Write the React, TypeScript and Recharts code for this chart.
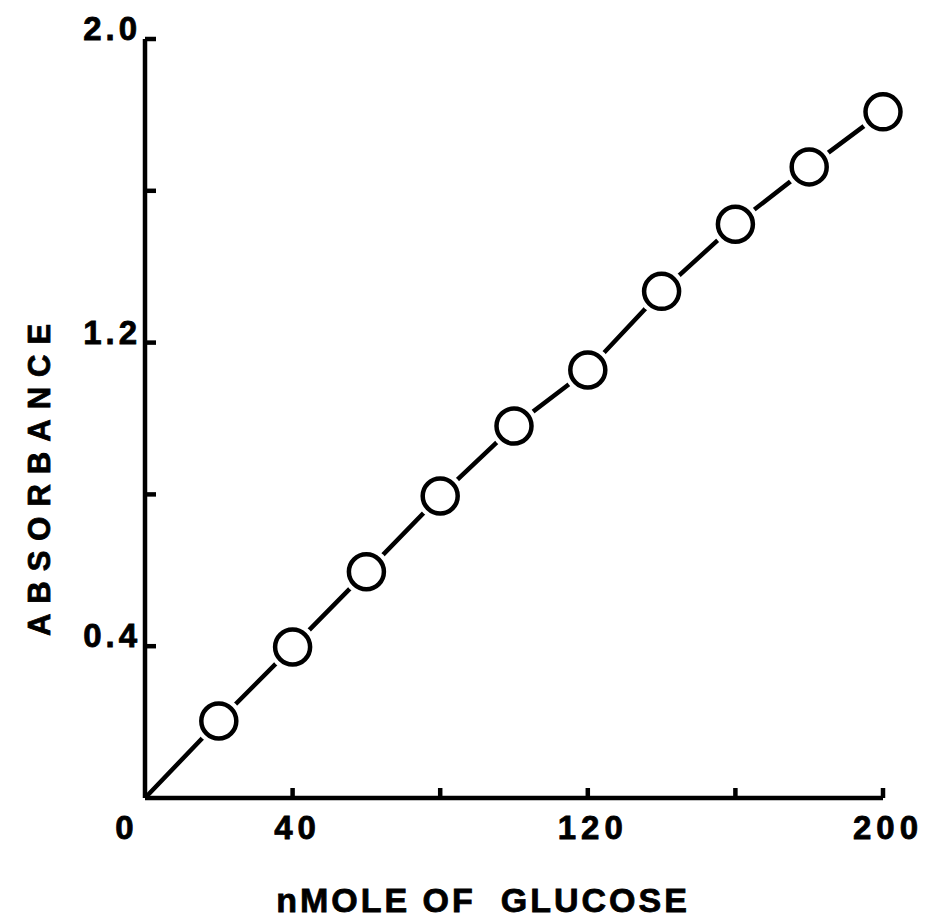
import React from 'react';
import { LineChart, Line, XAxis, YAxis } from 'recharts';

// nmol glucose vs absorbance
const glucose = [0, 20, 40, 60, 80, 100, 120, 140, 160, 180, 200];
const absorbance = [0, 0.203, 0.398, 0.596, 0.796, 0.98, 1.128, 1.335, 1.512, 1.663, 1.808];

const xTicks = [0, 40, 80, 120, 160, 200];
const xTickLabels = ['0', '40', '', '120', '', '200'];
const yTicks = [0.4, 0.8, 1.2, 1.6, 2.0];
const yTickLabels = ['0.4', '', '1.2', '', '2.0'];

const data = glucose.map((g, i) => ({ glucose: g, absorbance: absorbance[i] }));

const FONT = '"Liberation Sans", Arial, Helvetica, sans-serif';
const W = 927;
const H = 918;

const textStyle = {
  fontFamily: FONT,
  fontWeight: 'bold' as const,
  fill: '#000',
  stroke: '#000',
  strokeWidth: 0.8,
};

const XTick = (props: any) => {
  const { x, y, payload } = props;
  const i = xTicks.indexOf(payload.value);
  const label = xTickLabels[i];
  const dx = payload.value === 0 ? -18 : 5;
  return (
    <g>
      {payload.value !== 0 && (
        <line x1={x} x2={x} y1={y} y2={y - 10} stroke="#000" strokeWidth={4.5} />
      )}
      {label && (
        <text x={x + dx} y={y + 41} textAnchor="middle" fontSize={33} letterSpacing={5} {...textStyle}>
          {label}
        </text>
      )}
    </g>
  );
};

const YTick = (props: any) => {
  const { x, y, payload } = props;
  const i = yTicks.findIndex(t => Math.abs(t - payload.value) < 1e-6);
  const label = yTickLabels[i];
  return (
    <g>
      <line x1={x} x2={x + 11} y1={y} y2={y} stroke="#000" strokeWidth={4.5} />
      {label && (
        <text x={x - 4} y={y + 1} textAnchor="end" fontSize={33} letterSpacing={4} {...textStyle}>
          {label}
        </text>
      )}
    </g>
  );
};

const OpenCircle = (props: any) => {
  const { cx, cy, index } = props;
  if (index === 0) return <g key={`pt-${index}`} />;
  return (
    <g key={`pt-${index}`}>
      <circle cx={cx} cy={cy} r={24} fill="#fff" stroke="none" />
      <circle cx={cx} cy={cy} r={17.5} fill="#fff" stroke="#000" strokeWidth={4.5} />
    </g>
  );
};

export default function App() {
  return (
    <div style={{ position: 'absolute', left: 0, top: 0, width: W, height: H, background: '#fff' }}>
      <LineChart
        width={W}
        height={H}
        data={data}
        margin={{ top: 39, right: 44, bottom: 80, left: 85 }}
      >
        <XAxis
          dataKey="glucose"
          type="number"
          domain={[0, 200]}
          ticks={xTicks}
          height={40}
          tickSize={0}
          tickMargin={0}
          tickLine={false}
          axisLine={{ stroke: '#000', strokeWidth: 4.5 }}
          tick={<XTick />}
          interval={0}
        />
        <YAxis
          type="number"
          domain={[0, 2]}
          ticks={yTicks}
          width={60}
          tickSize={0}
          tickMargin={0}
          tickLine={false}
          axisLine={{ stroke: '#000', strokeWidth: 4.5 }}
          tick={<YTick />}
          interval={0}
        />
        <Line
          dataKey="absorbance"
          type="linear"
          stroke="#000"
          strokeWidth={4.5}
          dot={OpenCircle}
          activeDot={false}
          isAnimationActive={false}
        />
      </LineChart>
      <svg
        width={W}
        height={H}
        style={{ position: 'absolute', left: 0, top: 0, pointerEvents: 'none' }}
      >
        <text
          x={483}
          y={912}
          textAnchor="middle"
          fontSize={34}
          letterSpacing={3}
          xmlSpace="preserve"
          {...textStyle}
        >
          nMOLE OF  GLUCOSE
        </text>
        <text
          transform="translate(50, 475) rotate(-90)"
          textAnchor="middle"
          fontSize={31}
          letterSpacing={10}
          {...textStyle}
        >
          ABSORBANCE
        </text>
      </svg>
    </div>
  );
}
